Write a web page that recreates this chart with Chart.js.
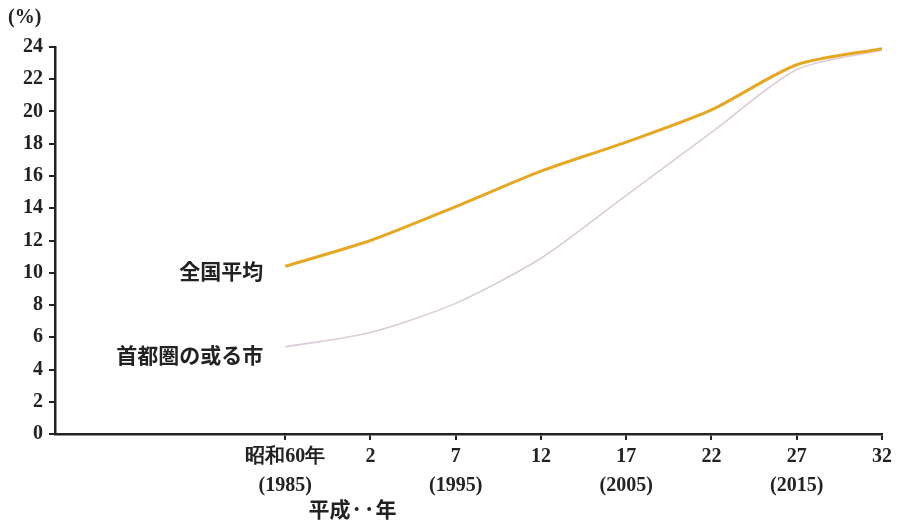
<!DOCTYPE html>
<html>
<head>
<meta charset="utf-8">
<script src="https://cdn.jsdelivr.net/npm/chart.js@4.4.0/dist/chart.umd.min.js"></script>
<style>
  body { margin: 0; background: #fff; }
  #wrap { width: 897px; height: 526px; position: relative; }
</style>
</head>
<body>
<div id="wrap"><canvas id="chart"></canvas></div>
<script>
// DATA
const years = [1985, 1990, 1995, 2000, 2005, 2010, 2015, 2020];
const tickLabels = [["昭和60年", "(1985)"], ["2"], ["7", "(1995)"], ["12"], ["17", "(2005)"], ["22"], ["27", "(2015)"], ["32"]];
const national = [10.4, 12.0, 14.1, 16.3, 18.1, 20.1, 22.9, 23.9];
const metroCity = [5.4, 6.3, 8.1, 10.9, 14.8, 18.7, 22.6, 23.8];
const seriesNames = ["全国平均", "首都圏の或る市"];
const unitLabel = "(%)";
const eraNote = "平成··年";

const tickFont = { family: "'Liberation Serif', 'DejaVu Serif', serif", size: 20, weight: "bold" };
const cjkFont = "bold 21px 'Noto Sans CJK JP'";

// LABELS PLUGIN
const textPlugin = {
  id: "textLabels",
  afterDraw(chart) {
    const { ctx, scales: { x, y } } = chart;
    ctx.save();
    ctx.fillStyle = "#222";
    ctx.textBaseline = "middle";

    ctx.font = cjkFont;
    ctx.textAlign = "right";
    ctx.fillText(seriesNames[0], x.getPixelForValue(years[0]) - 22, y.getPixelForValue(national[0]) + 5);
    ctx.fillText(seriesNames[1], x.getPixelForValue(years[0]) - 22, y.getPixelForValue(metroCity[0]) + 8);

    ctx.textAlign = "center";
    ctx.fillText(eraNote, x.getPixelForValue(years[1]) - 18, 509);

    ctx.font = "bold 20px 'Liberation Serif'";
    ctx.textAlign = "left";
    ctx.fillText(unitLabel, 8, 18);
    ctx.restore();
  }
};

// CHART
new Chart(document.getElementById("chart"), {
  type: "line",
  data: {
    datasets: [
      {
        label: seriesNames[0],
        data: years.map((v, i) => ({ x: v, y: national[i] })),
        borderColor: "#e6a823",
        borderWidth: 3,
        order: 0
      },
      {
        label: seriesNames[1],
        data: years.map((v, i) => ({ x: v, y: metroCity[i] })),
        borderColor: "#dccbd9",
        borderWidth: 1.6,
        order: 1
      }
    ]
  },
  options: {
    responsive: true,
    maintainAspectRatio: false,
    animation: false,
    layout: { padding: { left: 0, right: 15, top: 47, bottom: 0 } },
    elements: {
      point: { radius: 0 },
      line: { tension: 0.25 }
    },
    plugins: {
      legend: { display: false },
      tooltip: { enabled: false }
    },
    scales: {
      x: {
        type: "linear",
        min: 1971.5,
        max: 2020,
        afterBuildTicks: (scale) => { scale.ticks = years.map(v => ({ value: v })); },
        afterFit: (scale) => { scale.height = 92; },
        ticks: {
          autoSkip: false,
          maxRotation: 0,
          padding: 2,
          color: "#222",
          font: { ...tickFont, lineHeight: 1.45 },
          callback: (v) => tickLabels[years.indexOf(v)]
        },
        grid: { display: true, drawOnChartArea: false, drawTicks: true, tickLength: 6, color: "#222", lineWidth: 2 },
        border: { display: true, color: "#222", width: 2.5 }
      },
      y: {
        min: 0,
        max: 24,
        afterFit: (scale) => { scale.width = 55; },
        ticks: {
          stepSize: 2,
          padding: 6,
          color: "#222",
          font: tickFont
        },
        grid: { display: true, drawOnChartArea: false, drawTicks: true, tickLength: 6, color: "#222", lineWidth: 2 },
        border: { display: true, color: "#222", width: 2.5 }
      }
    }
  },
  plugins: [textPlugin]
});
</script>
</body>
</html>
